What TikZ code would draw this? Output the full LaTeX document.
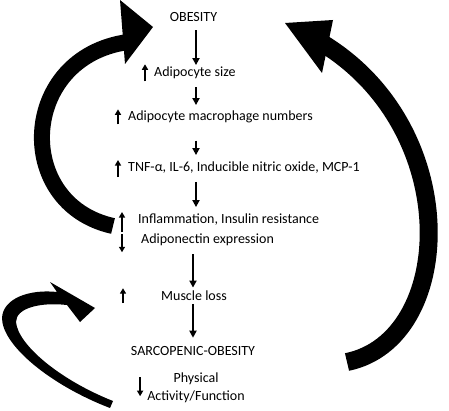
\documentclass[tikz,border=0pt]{standalone}
\usepackage{fontspec}
\setmainfont{Carlito}
\usepackage{tikz}
\usetikzlibrary{arrows.meta,calc}
\tikzset{lbl/.style={inner sep=2pt,font=\fontsize{14}{16.5}\selectfont},
  flow/.style={line width=1.8pt,-{Triangle[length=7pt,width=7pt]},shorten <=6pt},
  ind/.style={line width=1.5pt,-{Triangle[length=5.5pt,width=6pt]}},
  big/.style={line width=16pt}}

\begin{document}
\begin{tikzpicture}[x=1pt,y=-1pt]
        \useasboundingbox (0,0) rectangle (449,411);
        \coordinate (c1) at (196,0);
        \coordinate (c2) at (193,0);

		\node[lbl,anchor=base] (obesity) at (193.5,22) {OBESITY};
        \node[lbl,anchor=base west] (size) at (152,77) {Adipocyte size};
        \node[lbl,anchor=base west] (macro) at (126,121) {Adipocyte macrophage numbers};
        \node[lbl,anchor=base west] (tnf) at (126,172) {TNF-α, IL-6, Inducible nitric oxide, MCP-1};
        \node[lbl,anchor=base west] (infl) at (136,224) {Inflammation, Insulin resistance};
        \node[lbl,anchor=base west] (adipo) at (139,244) {Adiponectin expression};
        \node[lbl,anchor=base west] (muscle) at (159,300.5) {Muscle loss};
        \node[lbl,anchor=base] (sarco) at (193,355) {SARCOPENIC-OBESITY};
        \node[lbl,anchor=north,align=center] (phys) at (196,371) {Physical\\[1.5pt]Activity/Function};

        \draw[flow] (c1 |- obesity.south) -- (c1 |- size.north);
        \draw[flow,shorten >=4pt] (c1 |- size.south) -- (c1 |- macro.north);
        \draw[flow,shorten <=15pt,shorten >=5pt] (c1 |- macro.south) -- (c1 |- tnf.north);
        \draw[flow,shorten >=5pt] (c1 |- tnf.south) -- (c1 |- infl.north);
        \draw[flow,shorten >=1pt] (c2 |- adipo.south) -- (c2 |- muscle.north);
        \draw[flow,shorten <=1pt,shorten >=6pt] (c2 |- muscle.south) -- (c2 |- sarco.north);

        \draw[ind] ([shift={(-7,8)}]size.west) -- ++(0,-17);
        \draw[ind] ([shift={(-8,7)}]macro.west) -- ++(0,-15);
        \draw[ind] ([shift={(-8,9)}]tnf.west) -- ++(0,-17);
        \draw[ind] ([shift={(-14,12)}]infl.west) -- ++(0,-20);
        \draw[ind] ([shift={(-17,-6)}]adipo.west) -- ++(0,18);
        \draw[ind] ([shift={(-36,7.5)}]muscle.west) -- ++(0,-15);
        \draw[ind] ([shift={(-5,-11)}]phys.west) -- ++(0,19);

        \draw[big] (113,226) .. controls (13,204) and (19,57) .. (128,42);
        \fill (120,0) -- (153,27) -- (125,64) -- cycle;
        \draw[big,line width=18pt] (347,362) .. controls (455,340) and (465,130) .. (322,43);
        \fill (285,23) -- (333,20) -- (322,73) -- cycle;
        \fill (110,408) .. controls (50,385) and (2,345) .. (2,318) .. controls (3,298) and (30,289) .. (57,292)
          -- (50,282) -- (95,308) -- (80,322) -- (67,305)
          .. controls (40,302) and (16,308) .. (16,322) .. controls (18,345) and (60,380) .. (113,401) -- cycle;
    \end{tikzpicture}
\end{document}
